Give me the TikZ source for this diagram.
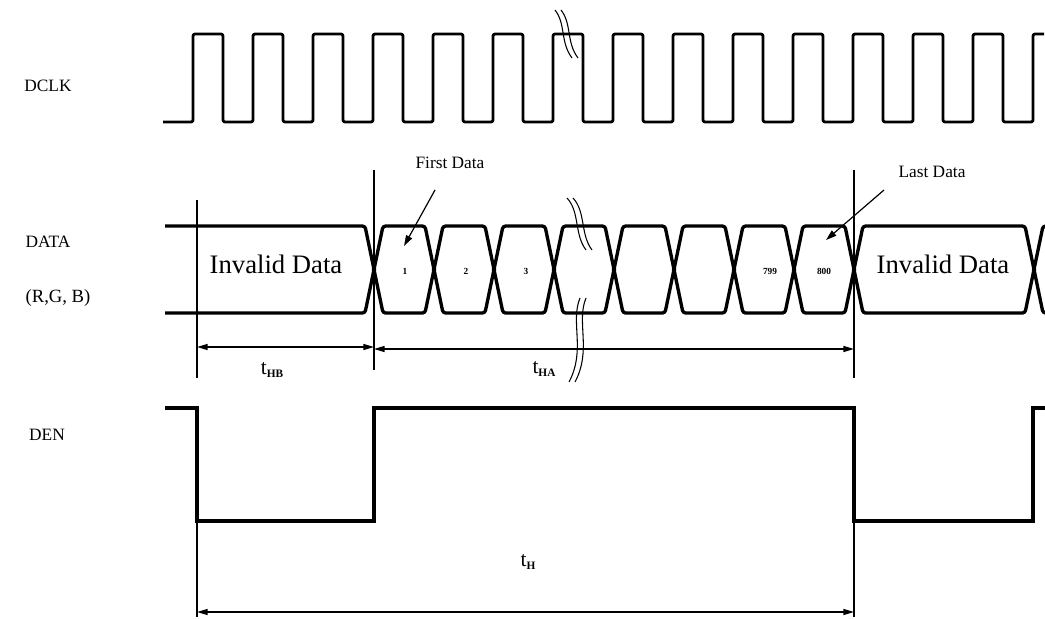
\documentclass[tikz,border=0pt]{standalone}
\usepackage{fontspec}
\setmainfont{Liberation Serif}
\usetikzlibrary{arrows.meta}
\newcommand{\tlab}[1]{{\fontsize{16}{18}\selectfont t}\raisebox{-0.6ex}{\fontsize{8.5}{9}\selectfont\bfseries #1}}
\begin{document}
\begin{tikzpicture}[x=0.75pt,y=-0.75pt,
 sig/.style={line width=2.1pt, line join=round, rounded corners=1.5pt},
 bus/.style={line width=2.5pt, line join=round, rounded corners=2pt},
 den/.style={line width=3.2pt},
 thinline/.style={line width=1.1pt},
 dimline/.style={line width=1.1pt, {Triangle[length=8pt,width=4.5pt]}-{Triangle[length=8pt,width=4.5pt]}},
 callout/.style={line width=0.9pt, -{Triangle[length=8pt,width=5pt]}},
 brk/.style={line width=0.8pt},
 lbl/.style={font=\fontsize{13}{15}\selectfont, inner sep=0pt},
 big/.style={font=\fontsize{20}{22}\selectfont, inner sep=0pt},
 num/.style={font=\fontsize{7}{8}\selectfont\bfseries, inner sep=0pt},
]
\useasboundingbox (0,0) rectangle (1045,618);

% signal names
\node[lbl] (ndclk) at (48,86) {DCLK};
\node[lbl] (ndata) at (48,242) {DATA};
\node[lbl, font=\fontsize{14}{16}\selectfont] (nrgb) at (58,298) {(R,G, B)};
\node[lbl] (nden) at (47,435) {DEN};

% DCLK
\draw[sig] (163,122) foreach \k in {0,...,13} {
  -- ({193+60*\k},122) -- ({193+60*\k},34) -- ({223+60*\k},34) -- ({223+60*\k},122) }
  -- (1033,122) -- (1033,34) -- (1044,34);
% break mark on DCLK
\draw[brk] (555,10) .. controls (566,24) and (560,42) .. (572,58);
\draw[brk] (561,10) .. controls (572,24) and (566,42) .. (578,58);

% DATA bus
\draw[bus] (165,226) -- (365,226) -- (374,269.5) -- (365,313) -- (165,313);
\foreach \c in {374,434,...,794} {
  \draw[bus] (\c,269.5) -- ({\c+9},226) -- ({\c+51},226) -- ({\c+60},269.5)
    -- ({\c+51},313) -- ({\c+9},313) -- cycle;
}
\draw[bus] (854,269.5) -- (863,226) -- (1025,226) -- (1034,269.5) -- (1025,313) -- (863,313) -- cycle;
\draw[bus] (1045,226) -- (1043,226) -- (1034,269.5) -- (1043,313) -- (1045,313);

\node[big] (inv1) at (276,264) {Invalid Data};
\node[big] (inv2) at (943,264) {Invalid Data};
\node[num] (d1) at (405,271) {1};
\node[num] (d2) at (466,271) {2};
\node[num] (d3) at (526,271) {3};
\node[num] (d799) at (770,271) {799};
\node[num] (d800) at (824,271) {800};

% break marks on DATA
\draw[brk] (567,198) .. controls (580,212) and (574,234) .. (586,250);
\draw[brk] (573,198) .. controls (586,212) and (580,234) .. (592,250);
\draw[brk] (580,298) .. controls (570,322) and (586,350) .. (569,382);
\draw[brk] (586,298) .. controls (576,322) and (592,350) .. (575,382);

% callouts
\node[lbl] (first) at (450,163) {First Data};
\node[lbl] (last) at (932,172) {Last Data};
\coordinate (firstfrom) at (435,190);
\coordinate (firstto) at (404,246);
\coordinate (lastfrom) at (884,190);
\coordinate (lastto) at (826,240);
\draw[callout] (firstfrom) -- (firstto);
\draw[callout] (lastfrom) -- (lastto);

% timing reference lines
\coordinate (a1) at (197,200);
\coordinate (a2) at (197,378);
\coordinate (b1) at (374,170);
\coordinate (b2) at (374,370);
\coordinate (c1) at (854,170);
\coordinate (c2) at (854,378);
\draw[thinline] (a1) -- (a2);
\draw[thinline] (b1) -- (b2);
\draw[thinline] (c1) -- (c2);

\coordinate (hbL) at (197,347);
\coordinate (hbR) at (374,347);
\coordinate (haL) at (374,349);
\coordinate (haR) at (854,349);
\draw[dimline] (hbL) -- (hbR);
\draw[dimline] (haL) -- (haR);
\node (thb) at (272,370) {\tlab{HB}};
\node (tha) at (544,369) {\tlab{HA}};

% DEN
\draw[den] (165,408) -- (197,408) -- (197,521) -- (374,521) -- (374,408)
  -- (854,408) -- (854,521) -- (1033,521) -- (1033,408) -- (1045,408);

\coordinate (hL0) at (197,521);
\coordinate (hR0) at (854,521);
\coordinate (hL) at (197,612);
\coordinate (hR) at (854,612);
\draw[thinline] (hL0) -- (197,617);
\draw[thinline] (hR0) -- (854,617);
\draw[dimline] (hL) -- (hR);
\node (th) at (528,562) {\tlab{H}};
\end{tikzpicture}
\end{document}
